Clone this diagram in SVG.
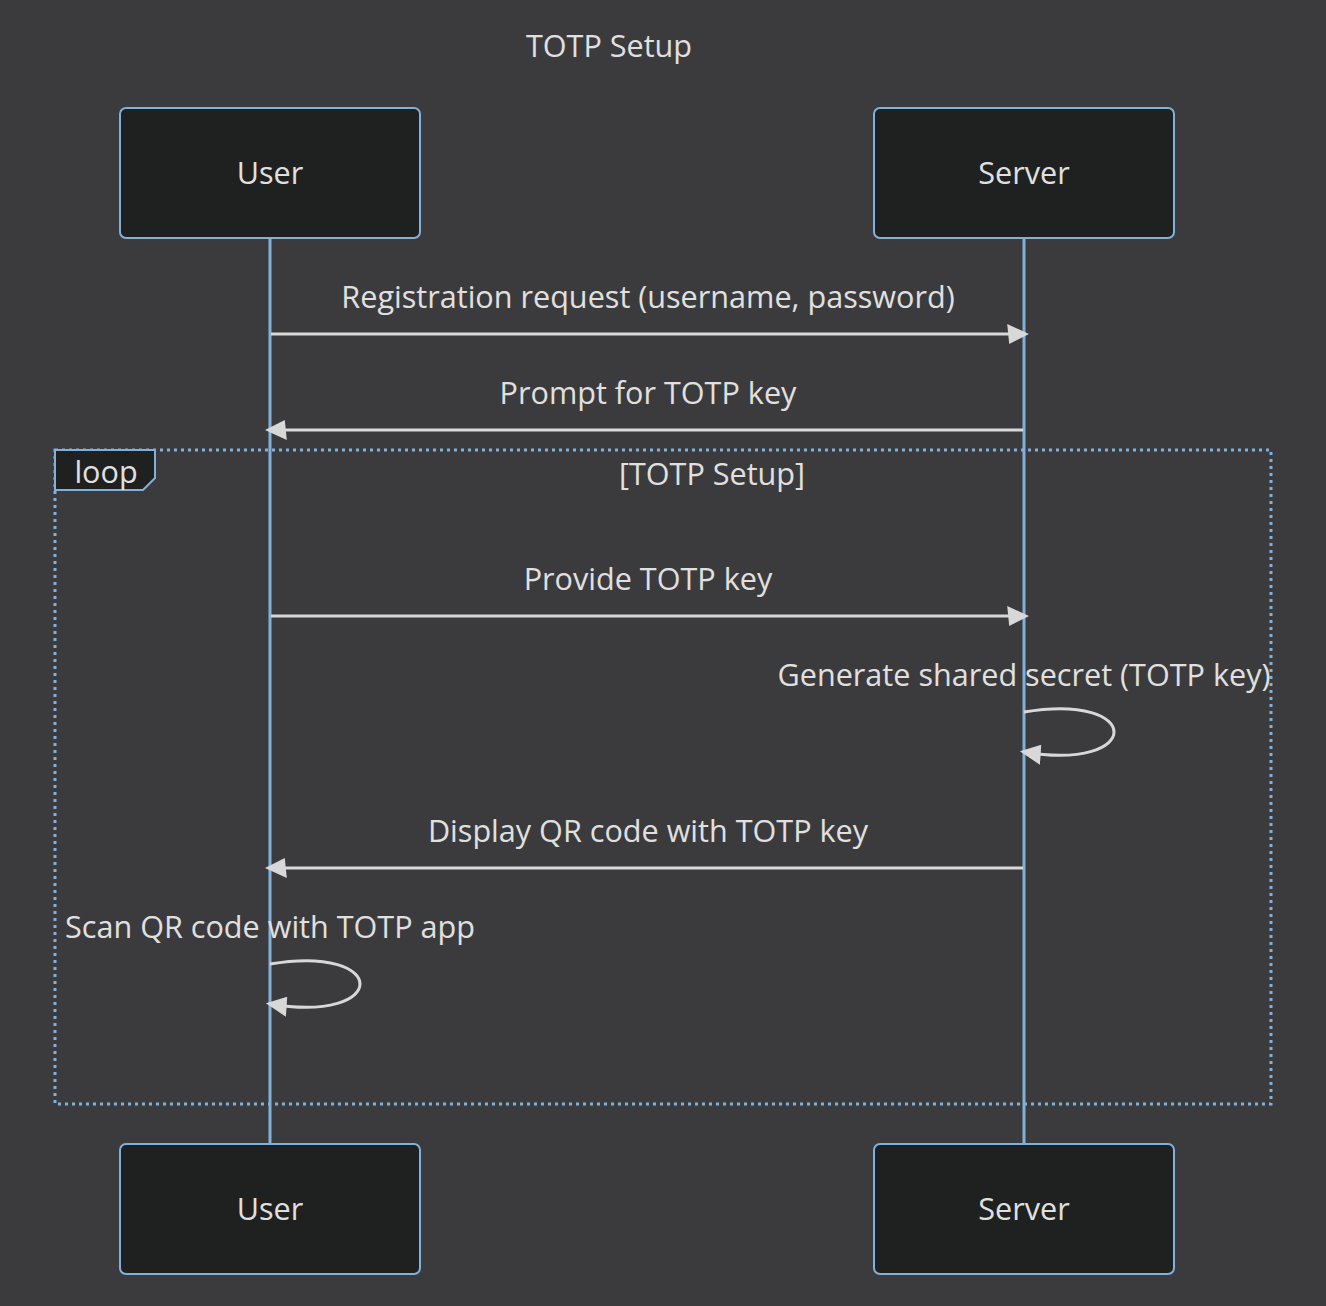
<svg xmlns="http://www.w3.org/2000/svg" width="1326" height="1306" viewBox="0 0 1326 1306">
<defs>
<style>
.bg{fill:#3b3b3d}
.actor{fill:#1f2020;stroke:#81b1db;stroke-width:2}
.life{stroke:#81b1db;stroke-width:3}
.t{font-family:"Open Sans","DejaVu Sans",sans-serif;fill:#e0e0e0;text-anchor:middle}
.msg{font-size:30.6px}
.act{font-size:30.6px}
.sig{stroke:#d8d8d8;stroke-width:3;fill:none}
.loopbox{fill:none;stroke:#81b1db;stroke-width:3;stroke-dasharray:3 4}
.lbl{fill:#1f2020;stroke:#81b1db;stroke-width:2}
</style>
<marker id="arrow" markerUnits="userSpaceOnUse" viewBox="-1 0 11 10" refX="7.9" refY="5" markerWidth="22" markerHeight="20" orient="auto">
<path d="M -1 0 L 10 5 L 0 10 z" fill="#d8d8d8"/>
</marker>
</defs>
<rect class="bg" x="0" y="0" width="1326" height="1306"/>
<text class="t msg" x="609" y="57">TOTP Setup</text>
<g id="lifelines">
<line class="life" x1="270" y1="238" x2="270" y2="1144"/>
<line class="life" x1="1024" y1="238" x2="1024" y2="1144"/>
</g>
<g id="loop">
<rect class="loopbox" x="55" y="450" width="1216" height="654"/>
<polygon class="lbl" points="55,450 155,450 155,478 143,490 55,490"/>
<text class="t msg" x="106" y="483">loop</text>
<text class="t msg" x="712" y="485">[TOTP Setup]</text>
</g>
<g id="user-top"><rect class="actor" x="120" y="108" width="300" height="130" rx="6"/><text class="t act" x="270" y="184">User</text></g>
<g id="server-top"><rect class="actor" x="874" y="108" width="300" height="130" rx="6"/><text class="t act" x="1024" y="184">Server</text></g>
<g id="user-bottom"><rect class="actor" x="120" y="1144" width="300" height="130" rx="6"/><text class="t act" x="270" y="1220">User</text></g>
<g id="server-bottom"><rect class="actor" x="874" y="1144" width="300" height="130" rx="6"/><text class="t act" x="1024" y="1220">Server</text></g>
<g id="connectors">
<text class="t msg" x="648" y="308">Registration request (username, password)</text>
<line class="sig" x1="271" y1="334" x2="1025" y2="334" marker-end="url(#arrow)"/>
<text class="t msg" x="648" y="404">Prompt for TOTP key</text>
<line class="sig" x1="1023" y1="430" x2="269" y2="430" marker-end="url(#arrow)"/>
<text class="t msg" x="648" y="590">Provide TOTP key</text>
<line class="sig" x1="271" y1="616" x2="1025" y2="616" marker-end="url(#arrow)"/>
<text class="t msg" x="1024" y="686">Generate shared secret (TOTP key)</text>
<path class="sig" d="M1024,712 C1144,692 1144,772 1024,752" marker-end="url(#arrow)"/>
<text class="t msg" x="648" y="842">Display QR code with TOTP key</text>
<line class="sig" x1="1023" y1="868" x2="269" y2="868" marker-end="url(#arrow)"/>
<text class="t msg" x="270" y="938">Scan QR code with TOTP app</text>
<path class="sig" d="M270,964 C390,944 390,1024 270,1004" marker-end="url(#arrow)"/>
</g>
</svg>
